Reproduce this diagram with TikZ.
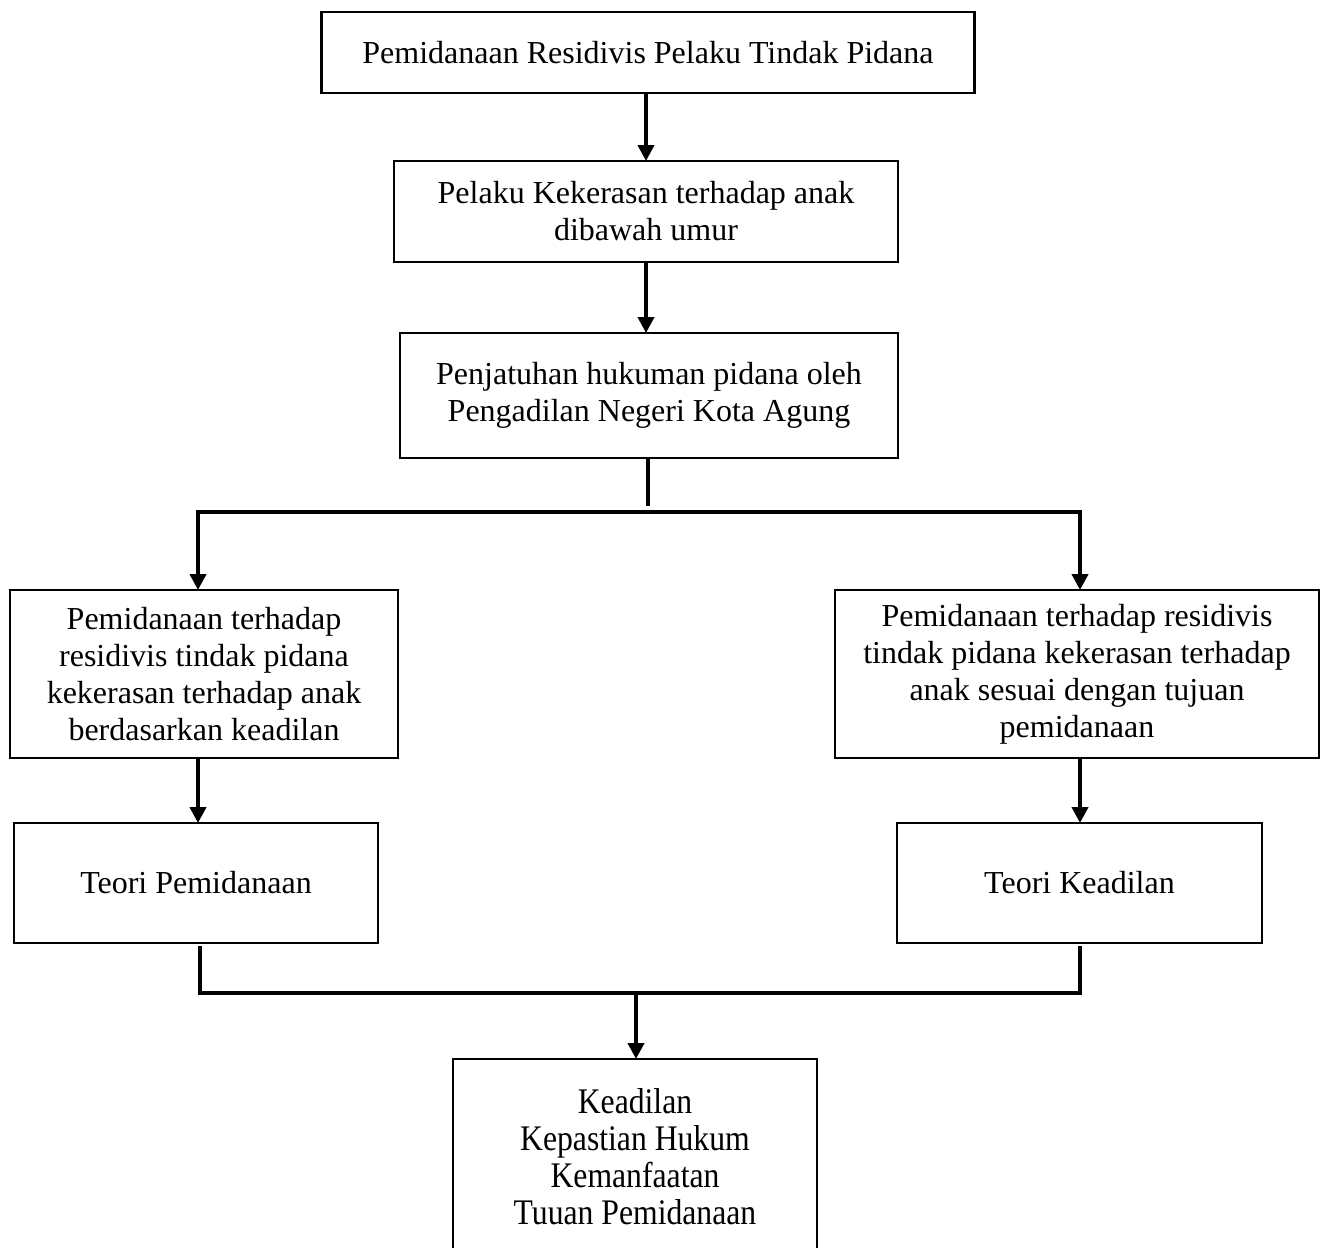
\documentclass[tikz,border=0pt]{standalone}
\usepackage{fontspec}
\setmainfont{Liberation Serif}
\usepackage{tikz}
\usetikzlibrary{positioning}
\usetikzlibrary{arrows.meta}

\begin{document}
\begin{tikzpicture}[
                x = 0.5pt, y = -0.5pt,
                kotak/.style = {
                    draw,
                    rectangle,
                    line width = 1.2pt,
                    align = center,
                    inner sep = 0pt,
                    outer sep = 0pt,
                    font = \fontsize{16}{18.5}\selectfont
                },
                garis/.style = {
                    line width = 2pt
                },
                panah/.style = {
                    garis,
                    -{Triangle[length=8pt,width=8pt]}
                }
            ]

            \useasboundingbox (0,0) rectangle (1321,1247);

            \node[kotak, minimum width=326.5pt, minimum height=40.5pt] (awal) at (648,52.5)
                {Pemidanaan Residivis Pelaku Tindak Pidana};
            \node[kotak, minimum width=252pt, minimum height=50.5pt] (pelaku) at (646,211.5)
                {Pelaku Kekerasan terhadap anak\\ dibawah umur};
            \node[kotak, minimum width=249pt, minimum height=62.5pt] (putusan) at (649,395.5)
                {Penjatuhan hukuman pidana oleh\\ Pengadilan Negeri Kota Agung};

            \node[kotak, minimum width=194pt, minimum height=84pt] (kiri) at (204,674)
                {Pemidanaan terhadap\\ residivis tindak pidana\\ kekerasan terhadap anak\\ berdasarkan keadilan};
            \node[kotak, minimum width=242pt, minimum height=84pt] (kanan) at (1077,674)
                {Pemidanaan terhadap residivis\\ tindak pidana kekerasan terhadap\\ anak sesuai dengan tujuan\\ pemidanaan};

            \node[kotak, minimum width=182pt, minimum height=60pt] (teoriKiri) at (196,883)
                {Teori Pemidanaan};
            \node[kotak, minimum width=182.5pt, minimum height=60pt] (teoriKanan) at (1079.5,883)
                {Teori Keadilan};

            \node[kotak, minimum width=182pt, minimum height=98pt,
                  font=\fontsize{18}{18.5}\selectfont\addfontfeatures{FakeStretch=0.88}] (hasil) at (635,1157)
                {Keadilan\\ Kepastian Hukum\\ Kemanfaatan\\ Tuuan Pemidanaan};

            \coordinate (pisah) at (648,506);
            \coordinate (cabangKiri) at (198,512);
            \coordinate (cabangKanan) at (1080,512);
            \coordinate (gabungKiri) at (200,993);
            \coordinate (gabungKanan) at (1080,993);
            \coordinate (gabung) at (636,993);

            \draw[panah] (awal.south -| pelaku.north) -- (pelaku.north);
            \draw[panah] (pelaku.south) -- (pelaku.south |- putusan.north);

            \draw[garis] (putusan.south -| pisah) -- (pisah);
            \draw[garis] ([xshift=-1pt]cabangKiri) -- ([xshift=1pt]cabangKanan);
            \draw[panah] (cabangKiri) -- (cabangKiri |- kiri.north);
            \draw[panah] (cabangKanan) -- (cabangKanan |- kanan.north);

            \draw[panah] (cabangKiri |- kiri.south) -- (cabangKiri |- teoriKiri.north);
            \draw[panah] (cabangKanan |- kanan.south) -- (cabangKanan |- teoriKanan.north);

            \draw[garis] ([yshift=-1.5pt]gabungKiri |- teoriKiri.south) -- (gabungKiri);
            \draw[garis] ([yshift=-1.5pt]gabungKanan |- teoriKanan.south) -- (gabungKanan);
            \draw[garis] ([xshift=-1pt]gabungKiri) -- ([xshift=1pt]gabungKanan);
            \draw[panah] (gabung) -- (gabung |- hasil.north);

         \end{tikzpicture}
\end{document}
